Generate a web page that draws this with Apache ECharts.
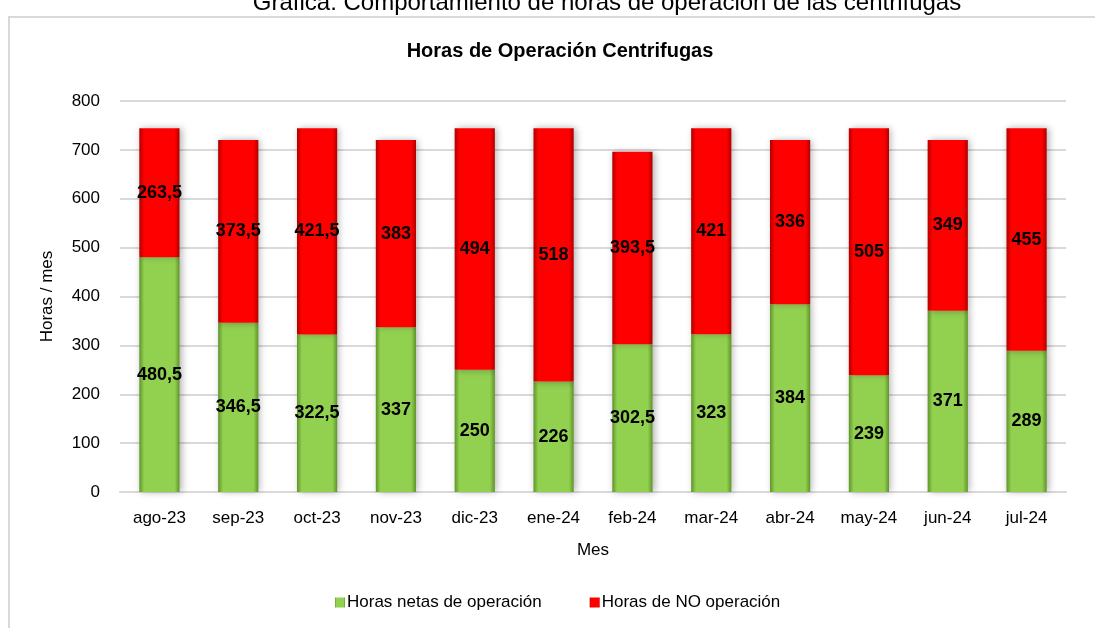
<!DOCTYPE html>
<html>
<head>
<meta charset="utf-8">
<script src="https://cdn.jsdelivr.net/npm/echarts@6/dist/echarts.min.js"></script>
<style>
    html, body { margin: 0; padding: 0; background: #fff; }
    #chart { width: 1095px; height: 628px; }
</style>
</head>
<body>
<div id="chart"></div>
<script>
var meses = ["ago-23","sep-23","oct-23","nov-23","dic-23","ene-24","feb-24","mar-24","abr-24","may-24","jun-24","jul-24"];
var horasOperacion = [480.5, 346.5, 322.5, 337, 250, 226, 302.5, 323, 384, 239, 371, 289];
var horasNoOperacion = [263.5, 373.5, 421.5, 383, 494, 518, 393.5, 421, 336, 505, 349, 455];
var yTicks = [0, 100, 200, 300, 400, 500, 600, 700, 800];

var textFont = "'Liberation Sans', Arial, sans-serif";

function barGradient(edge, mid){
    return new echarts.graphic.LinearGradient(0, 0, 1, 0, [
        {offset: 0, color: edge},
        {offset: 0.12, color: mid},
        {offset: 0.88, color: mid},
        {offset: 1, color: edge}
    ]);
}

function fmt(p){
    return String(p.value).replace(".", ",");
}

var myChart = echarts.init(document.getElementById("chart"));

var option = {
    backgroundColor: "#fff",
    animation: false,
    title: [{
        text: "Gráfica: Comportamiento de horas de operación de las centrifugas",
        left: 602,
        textAlign: "center",
        top: -14,
        textStyle: { fontFamily: textFont, fontSize: 24, fontWeight: "normal", color: "#000" }
    },{
        text: "Horas de Operación Centrifugas",
        left: 555,
        textAlign: "center",
        top: 36,
        textStyle: { fontFamily: textFont, fontSize: 20, fontWeight: "bold", color: "#000" }
    }],
    graphic: [{
        type: "rect",
        shape: { x: 9, y: 17, width: 1100, height: 640 },
        style: { fill: "#fff", stroke: "#d9d9d9", lineWidth: 2 },
        z: -1
    }],
    legend: {
        top: 589,
        left: 330,
        itemGap: 48,
        itemWidth: 10,
        itemHeight: 10,
        icon: "rect",
        textStyle: { fontFamily: textFont, fontSize: 17, color: "#000", padding: [0, 0, 0, -3] },
        data: ["Horas netas de operación", "Horas de NO operación"]
    },
    grid: { left: 120, right: 29, top: 101, bottom: 136 },
    xAxis: {
        type: "category",
        data: meses,
        name: "Mes",
        nameLocation: "middle",
        nameGap: 50,
        nameTextStyle: { fontFamily: textFont, fontSize: 17, color: "#000" },
        axisLine: { lineStyle: { color: "#d9d9d9", width: 2 } },
        axisTick: { show: false },
        axisLabel: { fontFamily: textFont, fontSize: 17, color: "#000", margin: 18 }
    },
    yAxis: {
        type: "value",
        min: yTicks[0],
        max: yTicks[yTicks.length - 1],
        interval: 100,
        name: "Horas / mes",
        nameLocation: "middle",
        nameGap: 64,
        nameTextStyle: { fontFamily: textFont, fontSize: 17, color: "#000" },
        axisLine: { show: false },
        axisTick: { show: false },
        splitLine: { lineStyle: { color: "#d9d9d9", width: 2 } },
        axisLabel: { fontFamily: textFont, fontSize: 17, color: "#000", margin: 20 }
    },
    series: [{
        name: "Horas netas de operación",
        type: "bar",
        stack: "total",
        barWidth: "51%",
        data: horasOperacion,
        itemStyle: {
            color: barGradient("#5f9428", "#92d050"),
            shadowColor: "rgba(0,0,0,0.3)",
            shadowBlur: 7,
            shadowOffsetX: 2
        },
        label: {
            show: true,
            position: "inside",
            formatter: fmt,
            fontFamily: textFont,
            fontSize: 18,
            fontWeight: "bold",
            color: "#000"
        }
    },{
        name: "Horas de NO operación",
        type: "bar",
        stack: "total",
        barWidth: "51%",
        data: horasNoOperacion,
        itemStyle: {
            color: barGradient("#b00000", "#ff0000"),
            shadowColor: "rgba(0,0,0,0.3)",
            shadowBlur: 7,
            shadowOffsetX: 2
        },
        label: {
            show: true,
            position: "inside",
            formatter: fmt,
            fontFamily: textFont,
            fontSize: 18,
            fontWeight: "bold",
            color: "#000"
        }
    }]
};

myChart.setOption(option);
window.onresize = myChart.resize;
</script>
</body>
</html>
